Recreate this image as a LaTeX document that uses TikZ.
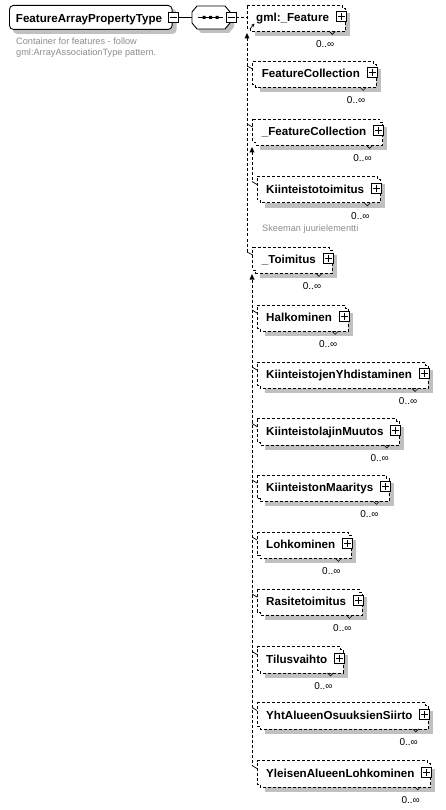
\documentclass[tikz,border=0pt]{standalone}
\usepackage{fontspec}
\setmainfont{Liberation Sans}
\usetikzlibrary{calc,arrows.meta}
\definecolor{shadowgray}{RGB}{192,192,192}
\definecolor{notegray}{RGB}{140,140,140}
\pgfdeclarelayer{bg}
\pgfsetlayers{bg,main}
\tikzset{
  dline/.style={line width=0.8pt, dash pattern=on 3pt off 2pt},
  hk/.style={line width=0.7pt},
  ename/.style={font=\fontsize{11.6}{13}\selectfont\bfseries, inner sep=0pt, minimum height=23pt, anchor=north west, text height=10.4pt, text depth=0.6pt},
  pbox/.style={draw, solid, line width=0.7pt, fill=white, minimum size=10pt, inner sep=0pt,
    path picture={\draw[line width=0.7pt] ([xshift=1.5pt]path picture bounding box.west) -- ([xshift=-1.5pt]path picture bounding box.east);
                  \draw[line width=0.7pt] ([yshift=-1.5pt]path picture bounding box.north) -- ([yshift=1.5pt]path picture bounding box.south);}},
  mbox/.style={draw, solid, line width=0.7pt, fill=white, minimum size=10pt, inner sep=0pt,
    path picture={\draw[line width=0.7pt] ([xshift=1.5pt]path picture bounding box.west) -- ([xshift=-1.5pt]path picture bounding box.east);}},
  mult/.style={font=\fontsize{10}{12}\selectfont, inner sep=0pt},
  note/.style={font=\fontsize{9.2}{11.6}\selectfont, text=notegray, align=left, inner sep=0pt},
}
\newcommand\xelem[4]{%
  \node[ename] (#1) at (#2,#3) {\hspace{9pt}#4\hspace{13pt}\null};
  \begin{pgfonlayer}{bg}
    \fill[shadowgray] ([shift={(7.5,8)}]#1.north west) rectangle ([shift={(7.5,8)}]#1.south east);
    \draw[dline, fill=white] (#1.north west) -- (#1.north east) -- ([shift={(0,3)}]#1.north east) -- ([shift={(3,3)}]#1.north east) -- ([shift={(3,3)}]#1.south east) -- ([shift={(3,3)}]#1.south west) -- ([shift={(3,0)}]#1.south west) -- (#1.south west) -- cycle;
  \end{pgfonlayer}
  \node[pbox] (#1p) at ([xshift=-1pt]#1.east) {};
  \draw[line width=0.6pt] ([shift={(-13,3)}]#1.south east) -- ([shift={(-10,6)}]#1.south east) -- ([shift={(-7,3)}]#1.south east);
  \node[mult] (#1m) at ([shift={(-17,16)}]#1.south east) {0..∞};
}
\newcommand\xhook[2]{% node, dx
  \draw[hk] ([shift={(#2,5)}]#1.north west) -- ([shift={(0,8)}]#1.north west);
}
\begin{document}
\begin{tikzpicture}[x=1pt,y=-1pt]
\useasboundingbox (0,0) rectangle (445,810);

% root element
\node[draw, line width=0.9pt, rounded corners=4pt, fill=white, font=\fontsize{11.6}{13}\selectfont\bfseries, inner sep=0pt, minimum height=24pt, text height=10.6pt, text depth=0.6pt, anchor=north west] (root) at (9,5) {\hspace{6.5pt}FeatureArrayPropertyType\hspace{10pt}\null};
\begin{pgfonlayer}{bg}
  \fill[shadowgray, rounded corners=4pt] ([shift={(4,4)}]root.north west) rectangle ([shift={(4,4)}]root.south east);
\end{pgfonlayer}
\node[mbox] (rootm) at ([xshift=1pt]root.east) {};

\node[note, anchor=north west] (desc) at (16,37.5) {Container for features - follow\\gml:ArrayAssociationType pattern.};

% sequence
\node[minimum width=38pt, minimum height=23pt, inner sep=0pt] (seq) at (211,17.5) {};
\begin{pgfonlayer}{bg}
  \fill[shadowgray] (196,16) -- (201,10) -- (229,10) -- (234,16) -- (234,27) -- (229,33) -- (201,33) -- (196,27) -- cycle;
\end{pgfonlayer}
\draw[line width=0.9pt, fill=white] (192,12) -- (197,6) -- (225,6) -- (230,12) -- (230,23) -- (225,29) -- (197,29) -- (192,23) -- cycle;
\draw[line width=0.9pt] (198,17.5) -- (223,17.5);
\fill (202.5,16) rectangle ++(3,3) (209,16) rectangle ++(3,3) (215.5,16) rectangle ++(3,3);
\node[mbox] (seqm) at (231,17.5) {};
\draw[line width=0.9pt] (rootm.east) -- (seq.west);

% elements
\xelem{G}{247}{5}{gml:\_Feature}
\xelem{FC}{252.7}{61}{FeatureCollection}
\xelem{FCa}{252.7}{119}{\_FeatureCollection}
\xelem{K}{257}{176.5}{Kiinteistotoimitus}
\node[note, anchor=west] (skm) at (262,229.3) {Skeeman juurielementti};
\xelem{T}{252.7}{247}{\_Toimitus}
\xelem{E1}{257}{305}{Halkominen}
\xelem{E2}{257}{362}{KiinteistojenYhdistaminen}
\xelem{E3}{257}{418.5}{KiinteistolajinMuutos}
\xelem{E4}{257}{475}{KiinteistonMaaritys}
\xelem{E5}{257}{532}{Lohkominen}
\xelem{E6}{257}{589}{Rasitetoimitus}
\xelem{E7}{257}{646.5}{Tilusvaihto}
\xelem{E8}{257}{702.5}{YhtAlueenOsuuksienSiirto}
\xelem{E9}{257}{760.5}{YleisenAlueenLohkominen}

% connector sequence -> head
\draw[dline] (seqm.east) -- (seqm.east -| G.west);
\draw[hk, -{Stealth[length=3.5pt,width=3.2pt]}] ([shift={(3,24)}]G.north west) -- ([shift={(7.5,18.5)}]G.north west);

% main substitution group line
\coordinate (mtip) at ([shift={(0,28)}]G.north west);
\fill (mtip) -- ++(-2.5,5.5) -- ++(5,0) -- cycle;
\draw[dline] ([yshift=-5.5pt]mtip) -- ([shift={(-5.7,5)}]T.north west);
\xhook{FC}{-5.7}
\xhook{FCa}{-5.7}
\xhook{T}{-5.7}

% _FeatureCollection group
\coordinate (g2tip) at ([shift={(-0.7,28)}]FCa.north west);
\fill (g2tip) -- ++(-2.5,5.5) -- ++(5,0) -- cycle;
\draw[dline] ([yshift=-5.5pt]g2tip) -- ([shift={(-5,5)}]K.north west);
\xhook{K}{-5}

% _Toimitus group
\coordinate (g3tip) at ([shift={(-0.7,27)}]T.north west);
\fill (g3tip) -- ++(-2.5,5.5) -- ++(5,0) -- cycle;
\draw[dline] ([yshift=-5.5pt]g3tip) -- ([shift={(-5,5)}]E9.north west);
\foreach \e in {E1,E2,E3,E4,E5,E6,E7,E8,E9}{\xhook{\e}{-5}}
\end{tikzpicture}
\end{document}
